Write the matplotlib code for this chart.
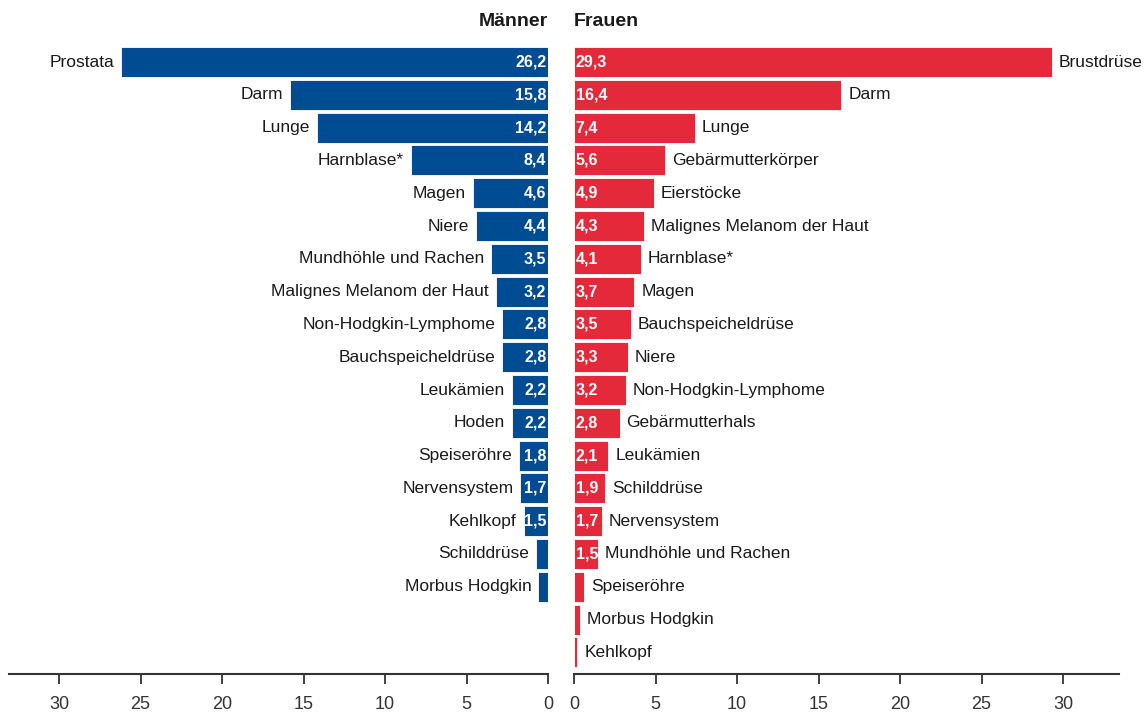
import matplotlib.pyplot as plt

plt.rcParams['font.family'] = ['Liberation Sans Narrow', 'Liberation Sans', 'DejaVu Sans']

men_labels = ["Prostata", "Darm", "Lunge", "Harnblase*", "Magen", "Niere",
              "Mundhöhle und Rachen", "Malignes Melanom der Haut",
              "Non-Hodgkin-Lymphome", "Bauchspeicheldrüse", "Leukämien",
              "Hoden", "Speiseröhre", "Nervensystem", "Kehlkopf",
              "Schilddrüse", "Morbus Hodgkin"]
men_values = [26.2, 15.8, 14.2, 8.4, 4.6, 4.4, 3.5, 3.2, 2.8, 2.8, 2.2,
              2.2, 1.8, 1.7, 1.5, 0.75, 0.6]

women_labels = ["Brustdrüse", "Darm", "Lunge", "Gebärmutterkörper",
                "Eierstöcke", "Malignes Melanom der Haut", "Harnblase*",
                "Magen", "Bauchspeicheldrüse", "Niere",
                "Non-Hodgkin-Lymphome", "Gebärmutterhals", "Leukämien",
                "Schilddrüse", "Nervensystem", "Mundhöhle und Rachen",
                "Speiseröhre", "Morbus Hodgkin", "Kehlkopf"]
women_values = [29.3, 16.4, 7.4, 5.6, 4.9, 4.3, 4.1, 3.7, 3.5, 3.3, 3.2,
                2.8, 2.1, 1.9, 1.7, 1.5, 0.6, 0.35, 0.2]

ticks = [0, 5, 10, 15, 20, 25, 30]
min_shown = 1.5  # values below this are not printed

blue = "#004c93"
red = "#e42a3a"
txt = "#1a1a1a"

W, H = 1146, 713
fig = plt.figure(figsize=(W / 100, H / 100), dpi=100)

px = 16.3  # pixels per unit
bot, top = 674, 30
ax_b = (H - bot) / H
ax_h = (bot - top) / H
ylim = ((bot - 62) / 32.8, (top - 62) / 32.8)

axl = fig.add_axes([9 / W, ax_b, 539 / W, ax_h])
axr = fig.add_axes([574 / W, ax_b, 545 / W, ax_h])
axl.set_xlim(539 / px, 0)
axr.set_xlim(0, 545 / px)

for ax, labels, vals, col, side in [(axl, men_labels, men_values, blue, -1),
                                    (axr, women_labels, women_values, red, 1)]:
    y = list(range(len(vals)))
    ax.barh(y, vals, height=0.92, color=col, edgecolor="white", linewidth=0.6)
    ax.set_ylim(*ylim)
    for yi, v, lab in zip(y, vals, labels):
        ax.annotate(lab, (v, yi), xytext=(5 * side, 0), textcoords="offset points",
                    ha="right" if side < 0 else "left", va="center",
                    fontsize=12.5, color=txt)
        if v >= min_shown:
            s = f"{v:.1f}".replace(".", ",")
            ax.annotate(s, (0, yi), xytext=(-1.2 if side < 0 else 1.2, 0),
                        textcoords="offset points",
                        ha="right" if side < 0 else "left", va="center",
                        fontsize=11.5, fontweight="bold", color="white")
    for sp in ["top", "left", "right"]:
        ax.spines[sp].set_visible(False)
    ax.spines["bottom"].set_color("#333333")
    ax.spines["bottom"].set_linewidth(1.5)
    ax.set_yticks([])
    ax.set_xticks(ticks)
    ax.set_xticklabels([str(t) for t in ticks])
    ax.tick_params(axis="x", direction="out", length=7, width=1.3,
                   colors="#333333", labelsize=13, pad=9)

fig.text(548 / W, 1 - 22 / H, "Männer", ha="right", va="center",
         fontsize=14, fontweight="bold", color=txt)
fig.text(574 / W, 1 - 22 / H, "Frauen", ha="left", va="center",
         fontsize=14, fontweight="bold", color=txt)

fig.savefig("out.png", dpi=100)
